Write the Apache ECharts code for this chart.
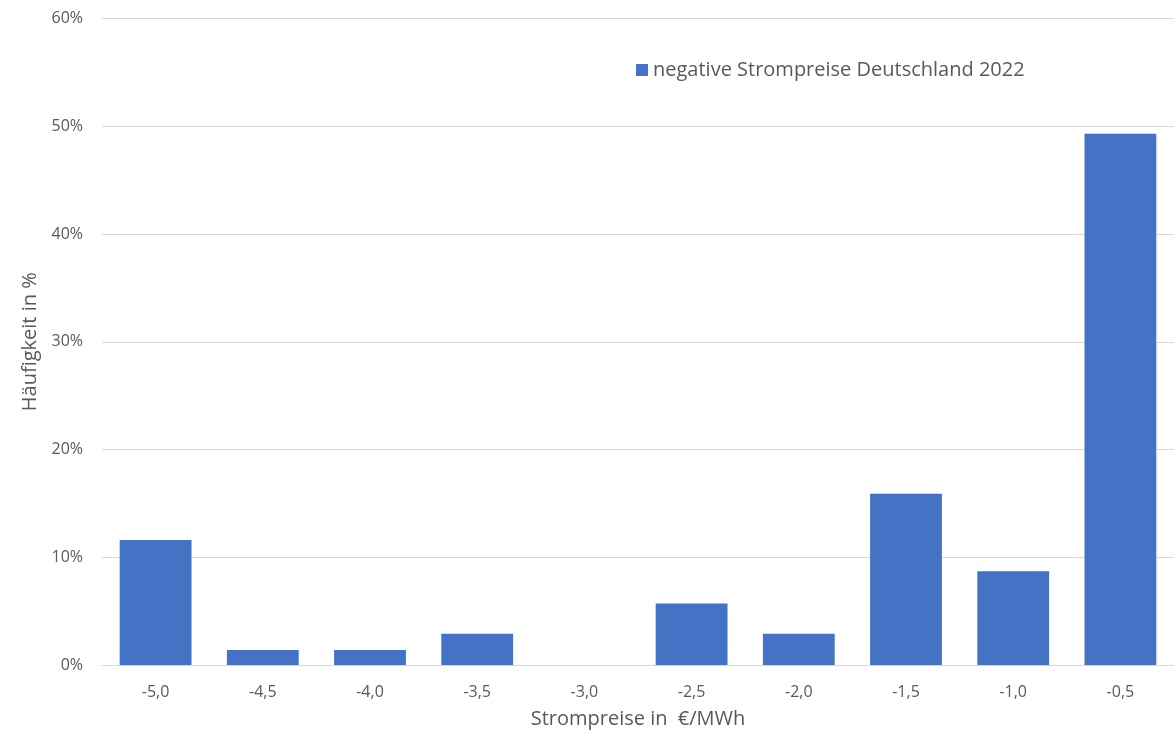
<!DOCTYPE html>
<html><head><meta charset="utf-8">
<script src="https://cdn.jsdelivr.net/npm/echarts@6/dist/echarts.min.js"></script>
<style>html,body{margin:0;padding:0;background:#fff;overflow:hidden}#c{width:1176px;height:734px}</style>
</head><body><div id="c"></div>
<script>
const categories = ['-5,0','-4,5','-4,0','-3,5','-3,0','-2,5','-2,0','-1,5','-1,0','-0,5'];
const values = [11.6, 1.4, 1.4, 2.9, 0, 5.7, 2.9, 15.9, 8.7, 49.3];
const seriesName = 'negative Strompreise Deutschland 2022';
const yTicks = [0, 10, 20, 30, 40, 50, 60];

const chart = echarts.init(document.getElementById('c'), null, {renderer: 'canvas'});
const font = 'Open Sans';
chart.setOption({
  animation: false,
  textStyle: {fontFamily: font},
  grid: {left: 102, width: 1072, top: 18.5, height: 648, containLabel: false},
  legend: {
    data: [seriesName], left: 631, top: 55, itemWidth: 12, itemHeight: 12, itemGap: 6,
    icon: 'rect',
    textStyle: {fontFamily: font, fontSize: 20, color: '#595959'}
  },
  xAxis: {
    type: 'category', data: categories,
    name: 'Strompreise in  €/MWh', nameLocation: 'middle', nameGap: 44,
    nameTextStyle: {fontFamily: font, fontSize: 20, color: '#595959'},
    axisLine: {show: true, lineStyle: {color: '#d9d9d9'}},
    axisTick: {show: false},
    axisLabel: {fontFamily: font, fontSize: 16, color: '#595959', margin: 19}
  },
  yAxis: {
    type: 'value', min: yTicks[0], max: yTicks[yTicks.length-1], interval: 10,
    name: 'Häufigkeit in %', nameLocation: 'middle', nameGap: 60,
    nameTextStyle: {fontFamily: font, fontSize: 20, color: '#595959'},
    axisLine: {show: false}, axisTick: {show: false},
    axisLabel: {fontFamily: font, fontSize: 16, color: '#595959', margin: 19, formatter: v => v + '%'},
    splitLine: {lineStyle: {color: '#d9d9d9', width: 1}}
  },
  series: [{
    name: seriesName, type: 'bar', data: values, barWidth: '67%',
    itemStyle: {color: '#4472c4'}
  }]
});
</script></body></html>
